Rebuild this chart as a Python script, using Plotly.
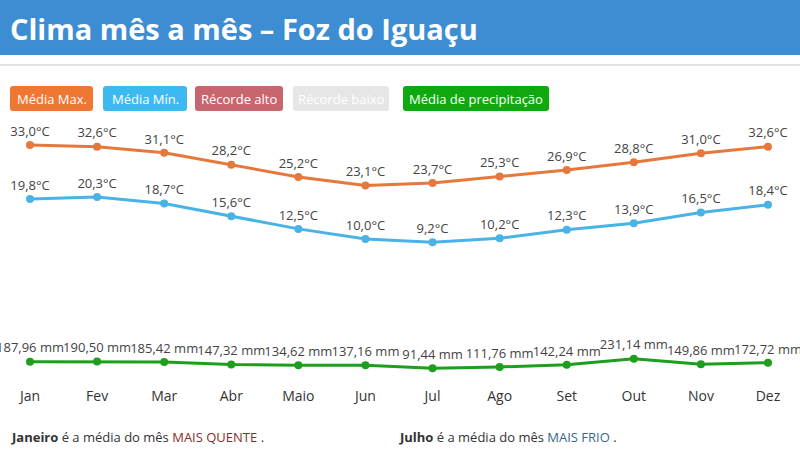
import plotly.graph_objects as go

months = ["Jan", "Fev", "Mar", "Abr", "Maio", "Jun", "Jul", "Ago", "Set", "Out", "Nov", "Dez"]
temp_max = [33.0, 32.6, 31.1, 28.2, 25.2, 23.1, 23.7, 25.3, 26.9, 28.8, 31.0, 32.6]
temp_min = [19.8, 20.3, 18.7, 15.6, 12.5, 10.0, 9.2, 10.2, 12.3, 13.9, 16.5, 18.4]
precip = [187.96, 190.50, 185.42, 147.32, 134.62, 137.16, 91.44, 111.76, 142.24, 231.14, 149.86, 172.72]

title_text = "Clima mês a mês – Foz do Iguaçu"
legend_labels = ["Média Max.", "Média Mín.", "Récorde alto", "Récorde baixo", "Média de precipitação"]

W, H = 800, 450
TOP, BOTTOM = 120, 380
FONT = "Open Sans"


def px(x):
    return x / W


def py(y):
    return (BOTTOM - y) / (BOTTOM - TOP)


def fmt(v, d, unit):
    return f"{v:.{d}f}".replace(".", ",") + unit


xs = list(range(len(months)))
C_MAX = "#e5783a"
C_MIN = "#4ab3e6"
C_PRE = "#1e9e1e"

fig = go.Figure()
fig.add_trace(go.Scatter(
    x=xs, y=temp_max, mode="lines+markers+text",
    line=dict(color=C_MAX, width=3), marker=dict(color=C_MAX, size=8),
    text=[fmt(v, 1, "°C") for v in temp_max], textposition="top center",
    textfont=dict(family=FONT, size=13, color="#444444"), cliponaxis=False,
    hoverinfo="skip", showlegend=False))
fig.add_trace(go.Scatter(
    x=xs, y=temp_min, mode="lines+markers+text",
    line=dict(color=C_MIN, width=3), marker=dict(color=C_MIN, size=8),
    text=[fmt(v, 1, "°C") for v in temp_min], textposition="top center",
    textfont=dict(family=FONT, size=13, color="#444444"), cliponaxis=False,
    hoverinfo="skip", showlegend=False))
fig.add_trace(go.Scatter(
    x=xs, y=precip, mode="lines+markers+text", yaxis="y2",
    line=dict(color=C_PRE, width=3), marker=dict(color=C_PRE, size=8),
    text=[fmt(v, 2, " mm") for v in precip], textposition="top center",
    textfont=dict(family=FONT, size=13, color="#444444"), cliponaxis=False,
    hoverinfo="skip", showlegend=False))

shapes = []
annotations = []

# header bar
shapes.append(dict(type="rect", xref="paper", yref="paper", x0=0, x1=1, y0=py(55), y1=py(0),
                   fillcolor="#3d8dd2", line=dict(width=0), layer="below"))
shapes.append(dict(type="line", xref="paper", yref="paper", x0=0, x1=1, y0=py(65), y1=py(65),
                   line=dict(color="#e2e2e2", width=2)))
annotations.append(dict(xref="paper", yref="paper", x=px(8), y=py(29), xanchor="left", yanchor="middle",
                        text="<b>" + title_text + "</b>", showarrow=False,
                        font=dict(family=FONT, size=29, color="white")))


def rrect(x0, y0, x1, y1, r=3):
    rx, ry = r / W, r / (BOTTOM - TOP)
    X0, X1 = px(x0), px(x1)
    Y0, Y1 = py(y1), py(y0)  # Y0 bottom, Y1 top in paper
    return (f"M {X0+rx},{Y0} L {X1-rx},{Y0} Q {X1},{Y0} {X1},{Y0+ry} "
            f"L {X1},{Y1-ry} Q {X1},{Y1} {X1-rx},{Y1} L {X0+rx},{Y1} "
            f"Q {X0},{Y1} {X0},{Y1-ry} L {X0},{Y0+ry} Q {X0},{Y0} {X0+rx},{Y0} Z")


btn_boxes = [(10, 93), (103, 187), (195, 283), (293, 389), (403, 549)]
btn_colors = ["#ee7733", "#3db9f2", "#c7666e", "#e6e6e6", "#0fa80f"]
for (bx0, bx1), col, lab in zip(btn_boxes, btn_colors, legend_labels):
    shapes.append(dict(type="path", xref="paper", yref="paper", path=rrect(bx0, 86, bx1, 111),
                       fillcolor=col, line=dict(width=0)))
    annotations.append(dict(xref="paper", yref="paper", x=px((bx0 + bx1) / 2), y=py(98.5),
                            xanchor="center", yanchor="middle", text=lab, showarrow=False,
                            font=dict(family=FONT, size=13, color="white")))

annotations.append(dict(xref="paper", yref="paper", x=px(9), y=py(437), xanchor="left", yanchor="middle",
                        text="<b>Janeiro</b> é a média do mês <span style='color:#8a2c2c'>MAIS QUENTE</span> .",
                        showarrow=False, font=dict(family=FONT, size=13, color="#333333")))
annotations.append(dict(xref="paper", yref="paper", x=px(397), y=py(437), xanchor="left", yanchor="middle",
                        text="<b>Julho</b> é a média do mês <span style='color:#3b6688'>MAIS FRIO</span> .",
                        showarrow=False, font=dict(family=FONT, size=13, color="#333333")))

span = (len(months) - 1)
x_left = -30 / ((768 - 30) / span)
x_right = span + 32 / ((768 - 30) / span)

fig.update_layout(
    width=W, height=H,
    margin=dict(l=0, r=0, t=TOP, b=H - BOTTOM),
    paper_bgcolor="white", plot_bgcolor="white",
    xaxis=dict(range=[x_left, x_right], tickmode="array", tickvals=xs, ticktext=months,
               showgrid=False, zeroline=False, showline=False, ticks="",
               ticklabelstandoff=6,
               tickfont=dict(family=FONT, size=14, color="#333333"), fixedrange=True),
    yaxis=dict(range=[-24.45, 39.12], visible=False, fixedrange=True),
    yaxis2=dict(range=[-78.7, 3711], overlaying="y", visible=False, fixedrange=True),
    shapes=shapes, annotations=annotations,
    showlegend=False,
)

fig.write_html("out.html", config={"displayModeBar": False},
               post_script="document.body.style.margin='0';document.body.style.overflow='hidden';")
